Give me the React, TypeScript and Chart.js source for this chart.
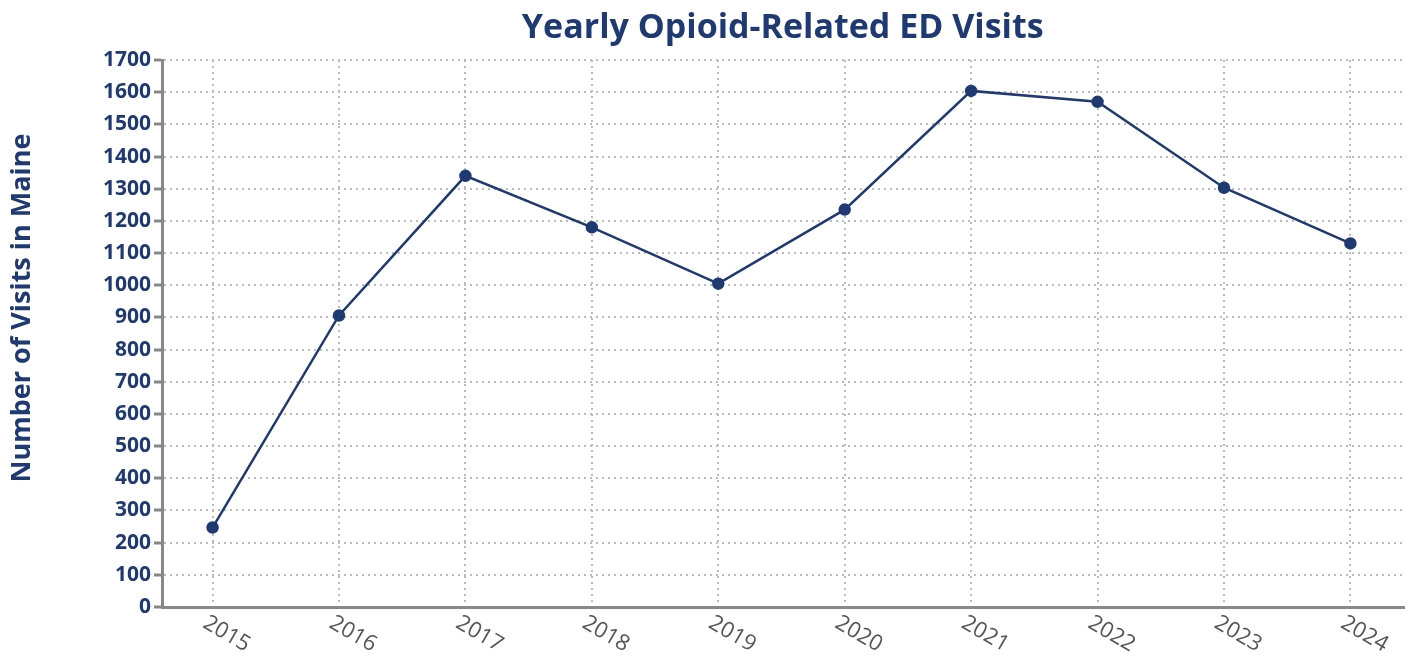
import React, { useEffect, useRef } from "react";
import { Chart, registerables } from "chart.js";

Chart.register(...registerables);

const years = [2015, 2016, 2017, 2018, 2019, 2020, 2021, 2022, 2023, 2024];
const visits = [247, 906, 1340, 1180, 1005, 1235, 1604, 1570, 1303, 1130];
const yTickStep = 100;
const yMax = 1700;

const TITLE = "Yearly Opioid-Related ED Visits";
const Y_TITLE = "Number of Visits in Maine";
const NAVY = "#1f3a73";
const FONT = "'Open Sans', Lato, sans-serif";

export default function App() {
  const ref = useRef<HTMLCanvasElement | null>(null);

  useEffect(() => {
    if (!ref.current) return;
    const labelPlugin = {
      id: "customLabels",
      afterDraw(chart: any) {
        const ctx = chart.ctx;
        const xs = chart.scales.x;
        ctx.save();
        ctx.fillStyle = "#555555";
        ctx.font = `22px ${FONT}`;
        ctx.textAlign = "center";
        ctx.textBaseline = "middle";
        years.forEach((yr) => {
          const px = xs.getPixelForValue(yr);
          ctx.save();
          ctx.translate(px + 14, chart.chartArea.bottom + 27);
          ctx.rotate((30 * Math.PI) / 180);
          ctx.fillText(String(yr), 0, 0);
          ctx.restore();
        });
        ctx.save();
        ctx.fillStyle = NAVY;
        ctx.font = `bold 27px ${FONT}`;
        ctx.translate(22, 308);
        ctx.rotate(-Math.PI / 2);
        ctx.fillText(Y_TITLE, 0, 0);
        ctx.restore();
        ctx.restore();
      },
    };

    const chart = new Chart(ref.current, {
      type: "line",
      data: {
        datasets: [
          {
            data: years.map((y, i) => ({ x: y, y: visits[i] })),
            borderColor: NAVY,
            backgroundColor: NAVY,
            borderWidth: 2.5,
            pointRadius: 5,
            pointHoverRadius: 5,
            tension: 0,
          },
        ],
      },
      options: {
        animation: false,
        responsive: false,
        layout: { padding: { left: 0, right: 6, bottom: 49, top: 0 } },
        plugins: {
          legend: { display: false },
          tooltip: { enabled: false },
          title: {
            display: true,
            text: TITLE,
            color: NAVY,
            fullSize: false,
            font: { family: FONT, size: 34, weight: "bold" },
            padding: { top: 8, bottom: 11.2 },
          },
        },
        scales: {
          x: {
            type: "linear",
            min: 2014.6,
            max: 2024.42,
            afterBuildTicks: (axis: any) => {
              axis.ticks = years.map((v) => ({ value: v }));
            },
            ticks: { display: false },
            grid: {
              color: "#bbbbbb",
              lineWidth: 2,
              drawTicks: false,
            },
            border: { color: "#888888", width: 3, dash: [2, 4] },
          },
          y: {
            min: 0,
            max: yMax,
            afterFit: (scale: any) => {
              scale.width = 162;
            },
            ticks: {
              stepSize: yTickStep,
              color: NAVY,
              padding: 3,
              font: { family: FONT, size: 21, weight: "bold" },
              callback: (v: any) => String(v),
            },
            grid: {
              color: "#bbbbbb",
              lineWidth: 2,
              tickLength: 8,
              tickColor: "#888888",
              tickBorderDash: [],
              tickWidth: 3,
            },
            border: { color: "#888888", width: 3, dash: [2, 4] },
          },
        },
      },
      plugins: [labelPlugin],
    } as any);
    return () => chart.destroy();
  }, []);

  return (
    <div style={{ position: "fixed", left: 0, top: 0, width: 1411, height: 656, background: "#fff" }}>
      <canvas ref={ref} width={1411} height={656} />
    </div>
  );
}
